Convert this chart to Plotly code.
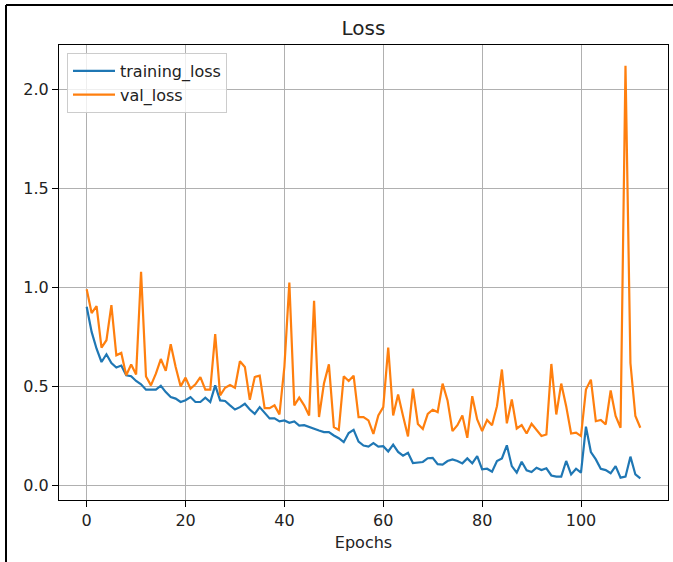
import plotly.graph_objects as go

epochs = list(range(113))

training_loss = [
    0.902, 0.775, 0.690, 0.623, 0.662, 0.618, 0.595, 0.605, 0.556, 0.551,
    0.527, 0.510, 0.483, 0.483, 0.483, 0.503, 0.471, 0.446, 0.438, 0.421,
    0.430, 0.446, 0.421, 0.421, 0.443, 0.421, 0.505, 0.429, 0.426, 0.404,
    0.383, 0.395, 0.412, 0.383, 0.361, 0.395, 0.365, 0.338, 0.338, 0.323,
    0.328, 0.316, 0.323, 0.302, 0.304, 0.294, 0.285, 0.277, 0.269, 0.269,
    0.252, 0.238, 0.218, 0.264, 0.280, 0.221, 0.201, 0.196, 0.213, 0.196,
    0.198, 0.171, 0.206, 0.169, 0.150, 0.164, 0.113, 0.117, 0.118, 0.137,
    0.139, 0.107, 0.105, 0.123, 0.131, 0.123, 0.111, 0.136, 0.111, 0.148,
    0.081, 0.084, 0.069, 0.123, 0.136, 0.202, 0.097, 0.064, 0.119, 0.076,
    0.067, 0.089, 0.077, 0.086, 0.050, 0.044, 0.044, 0.123, 0.055, 0.084,
    0.064, 0.296, 0.168, 0.131, 0.084, 0.077, 0.061, 0.097, 0.039, 0.044,
    0.145, 0.055, 0.035,
]

val_loss = [
    0.990, 0.870, 0.905, 0.696, 0.733, 0.910, 0.657, 0.669, 0.556, 0.610,
    0.560, 1.079, 0.550, 0.505, 0.564, 0.638, 0.578, 0.713, 0.598, 0.500,
    0.544, 0.488, 0.510, 0.547, 0.483, 0.483, 0.764, 0.454, 0.493, 0.507,
    0.493, 0.627, 0.598, 0.432, 0.547, 0.554, 0.390, 0.390, 0.404, 0.358,
    0.600, 1.024, 0.404, 0.443, 0.404, 0.353, 0.932, 0.345, 0.514, 0.611,
    0.294, 0.280, 0.551, 0.527, 0.554, 0.345, 0.345, 0.328, 0.260, 0.353,
    0.395, 0.696, 0.353, 0.459, 0.350, 0.247, 0.488, 0.310, 0.285, 0.361,
    0.382, 0.370, 0.514, 0.429, 0.274, 0.304, 0.353, 0.240, 0.450, 0.333,
    0.274, 0.330, 0.303, 0.400, 0.585, 0.313, 0.434, 0.287, 0.304, 0.262,
    0.311, 0.282, 0.249, 0.257, 0.613, 0.358, 0.514, 0.400, 0.262, 0.266,
    0.249, 0.484, 0.534, 0.324, 0.330, 0.308, 0.479, 0.350, 0.291, 2.119,
    0.618, 0.350, 0.291,
]

x_ticks = [0, 20, 40, 60, 80, 100]
y_ticks = [0.0, 0.5, 1.0, 1.5, 2.0]

W, H = 673, 562
ML, MR, MT, MB = 59, 5, 45, 62
PW, PH = W - ML - MR, H - MT - MB

def px(xp):
    return (xp - ML) / PW

def py(yp):
    return 1 - (yp - MT) / PH

font = "DejaVu Sans"
txt = "#222222"

fig = go.Figure()
fig.add_trace(go.Scatter(x=epochs, y=training_loss, mode="lines", name="training_loss",
                         line=dict(color="#1f77b4", width=2.2)))
fig.add_trace(go.Scatter(x=epochs, y=val_loss, mode="lines", name="val_loss",
                         line=dict(color="#ff7f0e", width=2.2)))

axis_common = dict(showline=True, linecolor="black", linewidth=1, mirror=True,
                   ticks="outside", ticklen=6, tickcolor="black", tickwidth=1,
                   showgrid=True, gridcolor="#b0b0b0", gridwidth=1.2, zeroline=False,
                   tickfont=dict(family=font, size=16, color=txt))

fig.update_xaxes(range=[-5.6, 117.6], tickvals=x_ticks,
                 title=dict(text="Epochs", font=dict(family=font, size=16, color=txt), standoff=7),
                 **axis_common)
fig.update_yaxes(range=[-0.074, 2.224], tickvals=y_ticks, tickformat=".1f",
                 **axis_common)

fig.update_layout(
    width=W, height=H,
    margin=dict(l=ML, r=MR, t=MT, b=MB, autoexpand=False),
    paper_bgcolor="white", plot_bgcolor="white",
    title=dict(text="Loss", x=(ML + PW / 2) / W, xanchor="center", y=1 - 28 / H, yanchor="middle",
               yref="container", font=dict(family=font, size=20, color=txt)),
    legend=dict(x=px(67), y=py(53), xanchor="left", yanchor="top",
                bgcolor="rgba(255,255,255,0.8)", bordercolor="#cccccc", borderwidth=1,
                font=dict(family=font, size=16, color=txt), tracegroupgap=0,
                itemwidth=42),
    showlegend=True,
    shapes=[
        dict(type="line", xref="paper", yref="paper", x0=px(6), x1=px(6), y0=py(5), y1=py(H + 5),
             line=dict(color="black", width=2)),
        dict(type="line", xref="paper", yref="paper", x0=px(6), x1=px(W + 5), y0=py(5), y1=py(5),
             line=dict(color="black", width=2)),
    ],
)

fig.write_html("out.html", config={"displayModeBar": False},
               post_script="document.body.style.margin='0px';document.body.style.overflow='hidden';")
